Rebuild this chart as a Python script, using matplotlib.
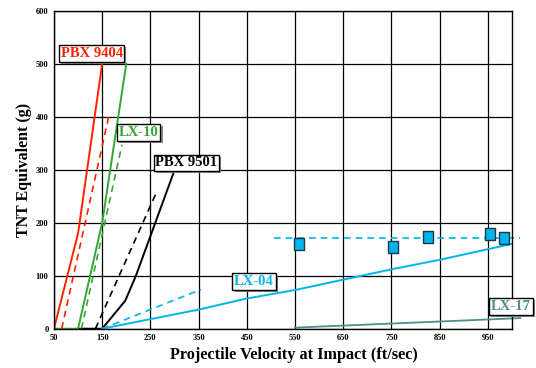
import matplotlib
matplotlib.use("Agg")
from matplotlib import pyplot as plt
from matplotlib import patheffects as pe

plt.rcParams['font.family'] = ['Liberation Serif', 'DejaVu Serif']
plt.rcParams['font.weight'] = 'bold'

# PBX 9404
pbx9404_x = [50, 100, 150]
pbx9404_y = [0, 180, 500]
pbx9404_dash_x = [66, 164]
pbx9404_dash_y = [0, 402]

# LX-10
lx10_x = [50, 100, 150, 200]
lx10_y = [0, 0, 200, 500]
lx10_dash_x = [107, 191]
lx10_dash_y = [0, 347]

# PBX 9501
pbx9501_x = [100, 150, 198, 220, 298]
pbx9501_y = [0, 0, 53, 100, 294]
pbx9501_dash_x = [136, 262]
pbx9501_dash_y = [0, 256]

# LX-04
lx04_x = [150, 350, 450, 550, 750, 850, 950, 1000]
lx04_y = [0, 36, 57, 73, 112, 130, 150, 160]
lx04_dash_x = [150, 355]
lx04_dash_y = [0, 74]
lx04_flat_x = [506, 1017]
lx04_flat_y = [171, 171]
lx04_pts_x = [558, 754, 825, 954, 984]
lx04_pts_y = [160, 154, 173, 178, 171]

# LX-17
lx17_x = [550, 1017]
lx17_y = [2, 20]

xticks = [50, 150, 250, 350, 450, 550, 650, 750, 850, 950]
yticks = [0, 100, 200, 300, 400, 500, 600]

RED = '#ff2200'
GREEN = '#33a633'
CYAN = '#00b4ee'
TEAL = '#4f8e8e'

fig = plt.figure(figsize=(5.36, 3.68), dpi=100)
ax = fig.add_axes([0.1007, 0.1068, 0.8545, 0.8642])

ax.plot(pbx9501_x, pbx9501_y, color='black', lw=1.4, clip_on=False)
ax.plot(pbx9501_dash_x, pbx9501_dash_y, color='black', lw=1.2, ls=(0, (4, 3)))
ax.plot(lx10_x, lx10_y, color=GREEN, lw=1.4)
ax.plot(lx10_dash_x, lx10_dash_y, color=GREEN, lw=1.2, ls=(0, (4, 3)))
ax.plot(pbx9404_x, pbx9404_y, color=RED, lw=1.4)
ax.plot(pbx9404_dash_x, pbx9404_dash_y, color=RED, lw=1.2, ls=(0, (4, 3)))
ax.plot(lx04_x, lx04_y, color=CYAN, lw=1.4)
ax.plot(lx04_dash_x, lx04_dash_y, color=CYAN, lw=1.2, ls=(0, (4, 3)))
ax.plot(lx04_flat_x, lx04_flat_y, color=CYAN, lw=1.2, ls=(0, (4, 3)), clip_on=False)
ax.plot(lx17_x, lx17_y, color=TEAL, lw=1.3, clip_on=False)
box = [(-0.83, -1), (0.83, -1), (0.83, 1), (-0.83, 1), (-0.83, -1)]
ax.scatter(lx04_pts_x, lx04_pts_y, marker=box, s=75, color=CYAN,
           edgecolor='#1a3a4a', linewidth=1.0, zorder=5, clip_on=False)

ax.set_xlim(50, 1000)
ax.set_ylim(0, 600)
ax.set_xticks(xticks)
ax.set_yticks(yticks)
ax.tick_params(labelsize=6, length=0, pad=4)
for lab in ax.get_xticklabels() + ax.get_yticklabels():
    lab.set_fontweight('bold')
ax.grid(True, color='black', lw=0.9)
ax.set_axisbelow(True)
for sp in ax.spines.values():
    sp.set_linewidth(1.0)

ax.set_xlabel('Projectile Velocity at Impact (ft/sec)', fontsize=11.7,
              fontweight='bold')
ax.xaxis.set_label_coords(0.524, -0.058)
ax.set_ylabel('TNT Equivalent (g)', fontsize=11.5, fontweight='bold', labelpad=3)

shadow = [pe.withSimplePatchShadow(offset=(1.5, -1.5), shadow_rgbFace='#888888', alpha=1)]
labels = [
    ('PBX 9404', 128, 519, RED),
    ('LX-10', 226, 370, GREEN),
    ('PBX 9501', 325, 313, 'black'),
    ('LX-04', 465, 89, CYAN),
    ('LX-17', 998, 42, TEAL),
]
for txt, x, y, c in labels:
    t = ax.text(x, y, txt, color=c, fontsize=10.5, fontweight='bold',
                ha='center', va='center', zorder=6, clip_on=False,
                bbox=dict(boxstyle='square,pad=0.12', fc='white', ec='black', lw=1.0))
    t.get_bbox_patch().set_path_effects(shadow)

plt.savefig('out.png', dpi=100)
